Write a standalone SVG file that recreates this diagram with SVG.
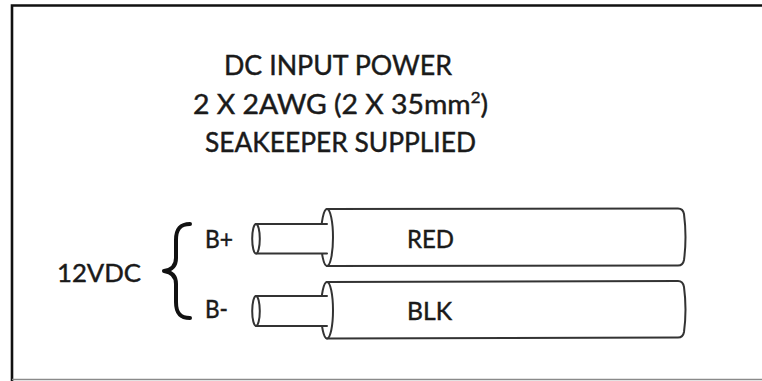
<svg xmlns="http://www.w3.org/2000/svg" width="762" height="381" viewBox="0 0 762 381">
<style>
  .t { font-family: "Lato", "Liberation Sans", sans-serif; fill: #1a1a1a; stroke: #1a1a1a; stroke-width: 0.45px; }
  .title { font-size: 27px; text-anchor: middle; }
  .lbl { font-size: 25px; }
  .w { fill: #fff; stroke: #333; stroke-width: 2; stroke-linejoin: round; }
  .wl { fill: none; stroke: #333; stroke-width: 2; stroke-linecap: round; }
</style>
<rect width="762" height="381" fill="#fff"/>
<g id="frame">
  <path d="M12,381 L12,5.5 L762,5.5" fill="none" stroke="#111" stroke-width="2.6"/>
  <line x1="12" y1="379.5" x2="762" y2="379.5" stroke="#8a8a8a" stroke-width="1.5"/>
</g>
<g id="title" class="t title">
  <text x="338" y="75" textLength="228" lengthAdjust="spacingAndGlyphs">DC INPUT POWER</text>
  <text x="340.5" y="114" textLength="295" lengthAdjust="spacingAndGlyphs">2 X 2AWG (2 X 35mm<tspan font-size="16" dy="-11">2</tspan><tspan dy="11">)</tspan></text>
  <text x="340.5" y="152" textLength="271" lengthAdjust="spacingAndGlyphs">SEAKEEPER SUPPLIED</text>
</g>
<g id="supply">
  <text class="t lbl" x="57" y="282" textLength="84" lengthAdjust="spacingAndGlyphs">12VDC</text>
  <path d="M190,224 C180,224 176,229 176,240 L176,258 C176,266 172,270 164,271 C172,272 176,276 176,284 L176,302 C176,313 180,318 190,318" fill="none" stroke="#111" stroke-width="4" stroke-linecap="round" stroke-linejoin="round"/>
</g>
<g id="wire-red">
  <path class="w" d="M327,209 L678,208.5 Q683,208.5 684,214 Q687,237 684,260 Q683,265.5 678,265.5 L327,266 Z"/>
  <ellipse class="w" cx="327" cy="237.5" rx="6" ry="28.5"/>
  <rect x="256" y="224" width="71" height="29.5" fill="#fff"/>
  <path class="wl" d="M256,224 L327,224 M256,253.5 L327,253.5"/>
  <ellipse class="w" cx="256" cy="238.75" rx="3.8" ry="14.75"/>
  <text class="t lbl" x="205" y="248" textLength="28" lengthAdjust="spacingAndGlyphs">B+</text>
  <text class="t lbl" x="407" y="248" textLength="47" lengthAdjust="spacingAndGlyphs">RED</text>
</g>
<g id="wire-blk">
  <path class="w" d="M327,282 L678,281 Q683,281 684,287 Q687,309.5 684,332 Q683,337.5 678,337.5 L327,338.5 Z"/>
  <ellipse class="w" cx="327" cy="310.25" rx="6" ry="28.25"/>
  <rect x="256" y="296" width="71" height="30" fill="#fff"/>
  <path class="wl" d="M256,296 L327,296 M256,326 L327,326"/>
  <ellipse class="w" cx="256" cy="311" rx="3.8" ry="15"/>
  <text class="t lbl" x="205" y="318" textLength="23" lengthAdjust="spacingAndGlyphs">B-</text>
  <text class="t lbl" x="407" y="320" textLength="45" lengthAdjust="spacingAndGlyphs">BLK</text>
</g>
</svg>
